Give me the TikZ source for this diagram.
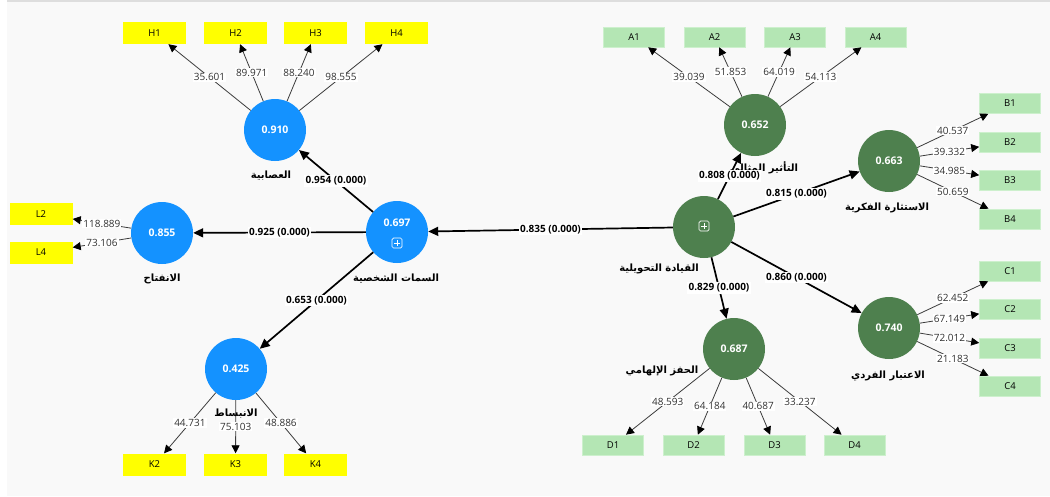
\documentclass[tikz,border=0pt]{standalone}
\usepackage{fontspec}
\setmainfont{Open Sans}
\newfontfamily\arabicfont[Script=Arabic]{DejaVu Sans}
\TeXXeTstate=1
\usetikzlibrary{arrows.meta}

\definecolor{canvas}{RGB}{249,249,249}
\definecolor{topline}{RGB}{222,222,222}
\definecolor{lvblue}{RGB}{20,146,255}
\definecolor{lvgreen}{RGB}{78,128,78}
\definecolor{boxyellow}{RGB}{255,255,0}
\definecolor{boxgreen}{RGB}{180,230,180}
\definecolor{boxgreenedge}{RGB}{205,240,205}
\definecolor{loadline}{RGB}{60,60,60}
\definecolor{loadtext}{RGB}{50,50,50}

% Arabic construct names, set right to left
\newcommand{\arname}[1]{{\arabicfont\bfseries\beginR #1\endR}}

\tikzset{
  lvbase/.style={circle, minimum size=62pt, inner sep=0pt, text=white,
    font=\bfseries\fontsize{10.5}{13}\selectfont},
  lvb/.style={lvbase, fill=lvblue},
  lvg/.style={lvbase, fill=lvgreen},
  ybox/.style={rectangle, fill=boxyellow, minimum width=63pt, minimum height=22pt,
    inner sep=0pt, font=\fontsize{9.5}{11}\selectfont},
  gbox/.style={rectangle, fill=boxgreen, draw=boxgreenedge, line width=0.6pt,
    minimum width=61pt, minimum height=20pt, inner sep=0pt,
    font=\fontsize{9.5}{11}\selectfont},
  load/.style={draw=loadline, line width=0.8pt,
    -{Triangle[length=8pt,width=8pt,color=black]}},
  loadlab/.style={fill=white, inner sep=1pt, text=loadtext,
    font=\fontsize{10}{12}\selectfont},
  struct/.style={draw=black, line width=1.7pt,
    -{Triangle[length=10pt,width=9pt]}},
  structlab/.style={fill=white, inner sep=1.2pt,
    font=\bfseries\fontsize{10}{12}\selectfont},
  lvname/.style={font=\fontsize{10}{12}\selectfont, inner sep=0pt},
  plusicon/.style={draw=white, line width=0.7pt, rounded corners=1.5pt,
    minimum size=10pt, inner sep=0pt}
}

\begin{document}
\begin{tikzpicture}[x=1pt,y=-1pt]
  % canvas
  \useasboundingbox (0,0) rectangle (1050,496);
  \fill[white] (0,0) rectangle (1050,496);
  \fill[canvas] (7,2) rectangle (1050,496);
  \draw[topline, line width=1.5pt] (7,1) -- (1050,1);

  % latent variables
  \node[lvb] (N) at (275,130) {0.910};
  \node[lvb] (O) at (162,233) {0.855};
  \node[lvb] (P) at (397,232) {};
  \node[lvb] (E) at (236,369) {0.425};
  \node[lvg] (T) at (704,227) {};
  \node[lvg] (II) at (755,125) {0.652};
  \node[lvg] (IS) at (889,161) {0.663};
  \node[lvg] (IM) at (734,349) {0.687};
  \node[lvg] (IC) at (889,328) {0.740};

  % values and expand icons of the second-order constructs
  \node[text=white, font=\bfseries\fontsize{10.5}{13}\selectfont] (Pval) at (397,223) {0.697};
  \node[plusicon] (Pplus) at (397,243) {};
  \draw[white, line width=0.7pt] ([xshift=-3pt]Pplus.center) -- ([xshift=3pt]Pplus.center)
    ([yshift=-3pt]Pplus.center) -- ([yshift=3pt]Pplus.center);
  \node[plusicon] (Tplus) at (704,226) {};
  \draw[white, line width=0.7pt] ([xshift=-3pt]Tplus.center) -- ([xshift=3pt]Tplus.center)
    ([yshift=-3pt]Tplus.center) -- ([yshift=3pt]Tplus.center);

  % indicators
  \node[ybox] (H1) at (154.5,33) {H1};
  \node[ybox] (H2) at (235.5,33) {H2};
  \node[ybox] (H3) at (315.5,33) {H3};
  \node[ybox] (H4) at (396.5,33) {H4};
  \node[ybox] (L2) at (41,214) {L2};
  \node[ybox] (L4) at (41,252.5) {L4};
  \node[ybox] (K2) at (154.5,464.5) {K2};
  \node[ybox] (K3) at (235.5,464.5) {K3};
  \node[ybox] (K4) at (315.5,464.5) {K4};

  \node[gbox] (A1) at (634,37) {A1};
  \node[gbox] (A2) at (714.5,37) {A2};
  \node[gbox] (A3) at (795,37) {A3};
  \node[gbox] (A4) at (875.5,37) {A4};
  \node[gbox] (B1) at (1010,103.5) {B1};
  \node[gbox] (B2) at (1010,142) {B2};
  \node[gbox] (B3) at (1010,180) {B3};
  \node[gbox] (B4) at (1010,219) {B4};
  \node[gbox] (C1) at (1010,271) {C1};
  \node[gbox] (C2) at (1010,309) {C2};
  \node[gbox] (C3) at (1010,348) {C3};
  \node[gbox] (C4) at (1010,386) {C4};
  \node[gbox] (D1) at (613,445) {D1};
  \node[gbox] (D2) at (693.5,445) {D2};
  \node[gbox] (D3) at (774.5,445) {D3};
  \node[gbox] (D4) at (854.5,445) {D4};

  % outer loadings
  \draw[load] (N) -- node[loadlab] {35.601} (H1);
  \draw[load] (N) -- node[loadlab] {89.971} (H2);
  \draw[load] (N) -- node[loadlab] {88.240} (H3);
  \draw[load] (N) -- node[loadlab] {98.555} (H4);
  \draw[load] (O) -- node[loadlab] {118.889} (L2);
  \draw[load] (O) -- node[loadlab] {73.106} (L4);
  \draw[load] (E) -- node[loadlab] {44.731} (K2);
  \draw[load] (E) -- node[loadlab] {75.103} (K3);
  \draw[load] (E) -- node[loadlab] {48.886} (K4);

  \draw[load] (II) -- node[loadlab] {39.039} (A1);
  \draw[load] (II) -- node[loadlab] {51.853} (A2);
  \draw[load] (II) -- node[loadlab] {64.019} (A3);
  \draw[load] (II) -- node[loadlab] {54.113} (A4);
  \draw[load] (IS) -- node[loadlab] {40.537} (B1);
  \draw[load] (IS) -- node[loadlab] {39.332} (B2);
  \draw[load] (IS) -- node[loadlab] {34.985} (B3);
  \draw[load] (IS) -- node[loadlab] {50.659} (B4);
  \draw[load] (IC) -- node[loadlab] {62.452} (C1);
  \draw[load] (IC) -- node[loadlab] {67.149} (C2);
  \draw[load] (IC) -- node[loadlab] {72.012} (C3);
  \draw[load] (IC) -- node[loadlab] {21.183} (C4);
  \draw[load] (IM) -- node[loadlab] {48.593} (D1);
  \draw[load] (IM) -- node[loadlab] {64.184} (D2);
  \draw[load] (IM) -- node[loadlab] {40.687} (D3);
  \draw[load] (IM) -- node[loadlab] {33.237} (D4);

  % construct names
  \node[lvname] (nN) at (271,176) {\arname{العصابية}};
  \node[lvname] (nO) at (162,279) {\arname{الانفتاح}};
  \node[lvname] (nP) at (396,279) {\arname{السمات الشخصية}};
  \node[lvname] (nE) at (236,414) {\arname{الانبساط}};
  \node[lvname] (nII) at (764,168) {\arname{التأثير المثالي}};
  \node[lvname] (nIS) at (887,208) {\arname{الاستثارة الفكرية}};
  \node[lvname] (nT) at (659,269) {\arname{القيادة التحويلية}};
  \node[lvname] (nIM) at (662,371) {\arname{الحفز الإلهامي}};
  \node[lvname] (nIC) at (888,376) {\arname{الاعتبار الفردي}};

  % inner model paths
  \draw[struct] (P) -- node[structlab] {0.954 (0.000)} (N);
  \draw[struct] (P) -- node[structlab] {0.925 (0.000)} (O);
  \draw[struct] (P) -- node[structlab] {0.653 (0.000)} (E);
  \draw[struct] (T) -- node[structlab] {0.835 (0.000)} (P);
  \draw[struct] (T) -- node[structlab] {0.808 (0.000)} (II);
  \draw[struct] (T) -- node[structlab] {0.815 (0.000)} (IS);
  \draw[struct] (T) -- node[structlab] {0.860 (0.000)} (IC);
  \draw[struct] (T) -- node[structlab] {0.829 (0.000)} (IM);
\end{tikzpicture}
\end{document}
